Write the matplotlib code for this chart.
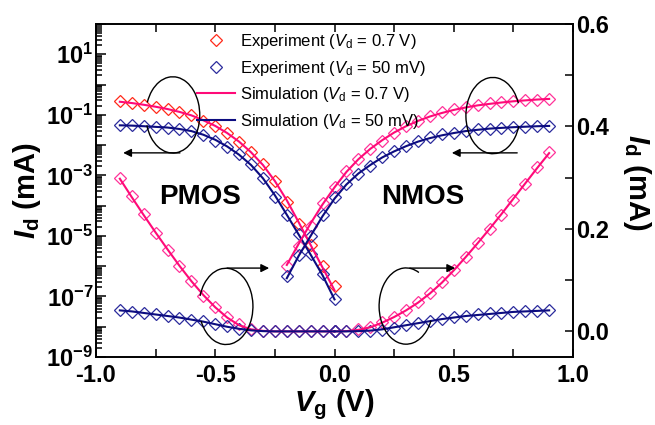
import numpy as np
import matplotlib
matplotlib.use('Agg')
import matplotlib.pyplot as plt
from matplotlib.patches import Arc
from matplotlib.ticker import (LogLocator, FuncFormatter, MultipleLocator,
                               NullFormatter, FormatStrFormatter)

plt.rcParams['font.family'] = ['Liberation Sans', 'DejaVu Sans']
plt.rcParams['font.weight'] = 'bold'
plt.rcParams['axes.labelweight'] = 'bold'
plt.rcParams['axes.unicode_minus'] = False
plt.rcParams['mathtext.fontset'] = 'custom'
plt.rcParams['mathtext.rm'] = 'Liberation Sans:weight=normal'
plt.rcParams['mathtext.it'] = 'Liberation Sans:italic:weight=normal'
plt.rcParams['mathtext.bf'] = 'Liberation Sans:bold'
plt.rcParams['mathtext.bfit'] = 'Liberation Sans:italic:bold'

# gate voltages (V)
vg_p = [-0.9, -0.85, -0.8, -0.75, -0.7, -0.65, -0.6, -0.55, -0.5, -0.45,
        -0.4, -0.35, -0.3, -0.25, -0.2, -0.15, -0.1, -0.05, 0.0]
vg_n_log = [-0.2, -0.15, -0.1, -0.05, 0.0, 0.05, 0.1, 0.15, 0.2, 0.25, 0.3,
            0.35, 0.4, 0.45, 0.5, 0.55, 0.6, 0.65, 0.7, 0.75, 0.8, 0.85, 0.9]
vg_n_lin = [0.0, 0.05, 0.1, 0.15, 0.2, 0.25, 0.3, 0.35, 0.4, 0.45, 0.5,
            0.55, 0.6, 0.65, 0.7, 0.75, 0.8, 0.85, 0.9]

# PMOS, log scale (mA)
p_exp_07 = [2.8e-1, 2.5e-1, 2.1e-1, 1.8e-1, 1.5e-1, 1.26e-1, 9.5e-2, 6.3e-2,
            4.2e-2, 2.5e-2, 1.26e-2, 6.0e-3, 2.4e-3, 6.3e-4, 1.35e-4, 2.5e-5,
            5.0e-6, 1.0e-6, 2.2e-7]
p_exp_50 = [4.6e-2, 4.5e-2, 4.3e-2, 4.1e-2, 3.8e-2, 3.5e-2, 3.0e-2, 2.1e-2,
            1.35e-2, 8.5e-3, 5.0e-3, 2.3e-3, 7.9e-4, 2.0e-4, 4.8e-5, 1.2e-5,
            2.5e-6, 5.6e-7, 8.0e-8]
p_sim_07 = [2.7e-1, 2.45e-1, 2.15e-1, 1.85e-1, 1.55e-1, 1.25e-1, 9.6e-2,
            6.6e-2, 4.3e-2, 2.5e-2, 1.3e-2, 5.8e-3, 2.2e-3, 6.5e-4, 1.5e-4,
            2.8e-5, 5.0e-6, 9.0e-7, 1.6e-7]
p_sim_50 = [4.5e-2, 4.4e-2, 4.2e-2, 4.0e-2, 3.8e-2, 3.4e-2, 2.9e-2, 2.2e-2,
            1.5e-2, 9.0e-3, 4.8e-3, 2.2e-3, 8.0e-4, 2.2e-4, 5.0e-5, 1.1e-5,
            2.4e-6, 5.0e-7, 8.0e-8]

# NMOS, log scale (mA)
n_exp_07 = [1.0e-6, 4.8e-6, 2.2e-5, 1.26e-4, 4.0e-4, 1.4e-3, 3.5e-3, 7.4e-3,
            1.4e-2, 2.6e-2, 4.3e-2, 6.3e-2, 9.1e-2, 1.23e-1, 1.5e-1, 1.8e-1,
            2.1e-1, 2.4e-1, 2.6e-1, 2.8e-1, 3.1e-1, 3.2e-1, 3.4e-1]
n_exp_50 = [4.7e-7, 2.4e-6, 1.0e-5, 5.0e-5, 2.0e-4, 5.1e-4, 1.1e-3, 2.1e-3,
            3.9e-3, 6.5e-3, 9.3e-3, 1.4e-2, 1.8e-2, 2.3e-2, 2.6e-2, 3.0e-2,
            3.3e-2, 3.5e-2, 3.8e-2, 4.0e-2, 4.1e-2, 4.2e-2, 4.3e-2]
n_sim_07 = [1.1e-6, 5.5e-6, 2.6e-5, 1.1e-4, 4.0e-4, 1.3e-3, 3.4e-3, 7.5e-3,
            1.45e-2, 2.6e-2, 4.2e-2, 6.3e-2, 8.8e-2, 1.15e-1, 1.45e-1, 1.75e-1,
            2.05e-1, 2.3e-1, 2.55e-1, 2.8e-1, 3.0e-1, 3.2e-1, 3.35e-1]
n_sim_50 = [4.0e-7, 2.2e-6, 1.0e-5, 4.5e-5, 1.7e-4, 5.0e-4, 1.15e-3, 2.2e-3,
            3.9e-3, 6.2e-3, 9.2e-3, 1.3e-2, 1.7e-2, 2.1e-2, 2.5e-2, 2.9e-2,
            3.2e-2, 3.5e-2, 3.7e-2, 3.9e-2, 4.05e-2, 4.2e-2, 4.3e-2]

# linear scale (mA)
p_lin_exp_07 = [0.300, 0.265, 0.229, 0.193, 0.159, 0.127, 0.098, 0.070, 0.047,
                0.028, 0.014, 0.005, 0.001, 0, 0, 0, 0, 0, 0]
p_lin_exp_50 = [0.041, 0.038, 0.035, 0.033, 0.030, 0.027, 0.023, 0.020, 0.015,
                0.010, 0.005, 0.002, 0, 0, 0, 0, 0, 0, 0]
p_lin_sim_07 = [0.298, 0.262, 0.227, 0.193, 0.160, 0.128, 0.098, 0.071, 0.047,
                0.027, 0.012, 0.004, 0.001, 0, 0, 0, 0, 0, 0]
p_lin_sim_50 = [0.041, 0.039, 0.036, 0.033, 0.030, 0.027, 0.023, 0.019, 0.014,
                0.009, 0.005, 0.002, 0.0005, 0, 0, 0, 0, 0, 0]
n_lin_exp_07 = [0, 0.001, 0.004, 0.009, 0.018, 0.029, 0.042, 0.057, 0.074,
                0.096, 0.120, 0.145, 0.172, 0.200, 0.228, 0.257, 0.288, 0.320,
                0.350]
n_lin_exp_50 = [0, 0, 0, 0.001, 0.003, 0.007, 0.012, 0.016, 0.021, 0.025,
                0.028, 0.030, 0.033, 0.035, 0.036, 0.038, 0.039, 0.040, 0.041]
n_lin_sim_07 = [0, 0.0005, 0.003, 0.008, 0.017, 0.028, 0.041, 0.056, 0.074,
                0.095, 0.119, 0.145, 0.172, 0.200, 0.229, 0.259, 0.289, 0.319,
                0.348]
n_lin_sim_50 = [0, 0, 0.0005, 0.0015, 0.004, 0.008, 0.012, 0.016, 0.020, 0.024,
                0.027, 0.030, 0.032, 0.034, 0.036, 0.038, 0.039, 0.040, 0.041]

red = '#ff2a1a'
pink_pt = '#ff3399'
pink = '#ff0a78'
blue_pt = '#2b2b9c'
navy = '#0c0c80'

fig = plt.figure(figsize=(6.55, 4.25), dpi=100)
ax = fig.add_axes([96 / 655, 68 / 425, 477 / 655, 333 / 425])
ax2 = ax.twinx()

mk = dict(marker='D', ms=6.2, mew=0.9, mfc='none', ls='none')

# log-scale curves (left axis)
h_e07, = ax.plot(vg_p, p_exp_07, mec=red, **mk)
h_e50, = ax.plot(vg_p, p_exp_50, mec=blue_pt, **mk)
ax.plot(vg_n_log, n_exp_07, mec=pink_pt, **mk)
ax.plot(vg_n_log, n_exp_50, mec=blue_pt, **mk)
h_s07, = ax.plot(vg_p, p_sim_07, color=pink, lw=1.5)
h_s50, = ax.plot(vg_p, p_sim_50, color=navy, lw=1.5)
ax.plot(vg_n_log, n_sim_07, color=pink, lw=1.5)
ax.plot(vg_n_log, n_sim_50, color=navy, lw=1.5)

# linear-scale curves (right axis)
ax2.plot(vg_p, p_lin_exp_07, mec=pink_pt, **mk)
ax2.plot(vg_n_lin, n_lin_exp_07, mec=pink_pt, **mk)
ax2.plot(vg_p, p_lin_exp_50, mec=blue_pt, **mk)
ax2.plot(vg_n_lin, n_lin_exp_50, mec=blue_pt, **mk)
ax2.plot(vg_p, p_lin_sim_07, color=pink, lw=1.5)
ax2.plot(vg_n_lin, n_lin_sim_07, color=pink, lw=1.5)
ax2.plot(vg_p, p_lin_sim_50, color=navy, lw=1.5)
ax2.plot(vg_n_lin, n_lin_sim_50, color=navy, lw=1.5)

ax.set_xlim(-1.0, 1.0)
ax.set_yscale('log')
ax.set_ylim(1e-9, 1e2)
ax2.set_ylim(-0.05, 0.6)

ax.xaxis.set_major_locator(MultipleLocator(0.5))
ax.xaxis.set_minor_locator(MultipleLocator(0.25))
ax.xaxis.set_major_formatter(FormatStrFormatter('%.1f'))
ax.yaxis.set_major_locator(LogLocator(base=10, numticks=20))
ax.yaxis.set_minor_locator(LogLocator(base=10, subs=np.arange(2, 10) * 1.0, numticks=20))
ax.yaxis.set_minor_formatter(NullFormatter())


def log_fmt(v, pos):
    e = int(round(np.log10(v)))
    if e % 2 == 0:
        return ''
    return r'$\mathbf{10^{%d}}$' % e


ax.yaxis.set_major_formatter(FuncFormatter(log_fmt))
ax2.yaxis.set_major_locator(MultipleLocator(0.2))
ax2.yaxis.set_minor_locator(MultipleLocator(0.1))
ax2.yaxis.set_major_formatter(FormatStrFormatter('%.1f'))

ax.tick_params(which='both', direction='in', top=True, right=False, width=1.1)
ax.tick_params(axis='x', which='both', length=6, labelsize=17, pad=5)
ax.tick_params(axis='y', which='major', length=7, labelsize=17, pad=2)
ax.tick_params(axis='y', which='minor', length=4)
ax2.tick_params(which='both', direction='in', length=6, width=1.1, labelsize=17, pad=2)
for a in (ax, ax2):
    for s in a.spines.values():
        s.set_linewidth(1.2)

ylab = r'$\mathbfit{I}_\mathbf{d}$ (mA)'
ax.set_ylabel(ylab, fontsize=21)
ax.yaxis.set_label_coords(-0.111, 0.5)
ax2.set_ylabel(ylab, fontsize=21, rotation=270, va='bottom')
ax2.yaxis.set_label_coords(1.1, 0.525)
ax.set_xlabel(r'$\mathbfit{V}_\mathbf{g}$ (V)', fontsize=21)
ax.xaxis.set_label_coords(0.5, -0.09)

ax.text(0.218, 0.481, 'PMOS', transform=ax.transAxes, fontsize=20,
        ha='center', va='center')
ax.text(0.686, 0.481, 'NMOS', transform=ax.transAxes, fontsize=20,
        ha='center', va='center')

# circles with arrows telling which axis the curves belong to
arcs = [((0.161, 0.727), -150, 145), ((0.832, 0.725), 35, 330),
        ((0.2725, 0.152), -140, 150), ((0.650, 0.153), 75, 320)]
for c, t1, t2 in arcs:
    ax2.add_patch(Arc(c, 0.113, 0.229, theta1=t1, theta2=t2, lw=1.0,
                      color='k', transform=ax2.transAxes, zorder=5))
arrows = [((0.176, 0.613), (0.057, 0.613)), ((0.883, 0.613), (0.746, 0.613)),
          ((0.275, 0.267), (0.363, 0.267)), ((0.658, 0.267), (0.753, 0.267))]
for a0, a1 in arrows:
    ax2.annotate('', xy=a1, xytext=a0, xycoords='axes fraction',
                 arrowprops=dict(arrowstyle='-|>', color='k', lw=1.0,
                                 mutation_scale=12, shrinkA=0, shrinkB=0))

labels = [r'Experiment ($V_\mathrm{d}$ = 0.7 V)', r'Experiment ($V_\mathrm{d}$ = 50 mV)',
          r'Simulation ($V_\mathrm{d}$ = 0.7 V)', r'Simulation ($V_\mathrm{d}$ = 50 mV)']
ax2.legend([h_e07, h_e50, h_s07, h_s50], labels, loc='upper left',
           bbox_to_anchor=(0.205, 0.985), frameon=False, borderaxespad=0,
           borderpad=0.2, handlelength=2.3, handletextpad=0.3,
           labelspacing=0.45, numpoints=1, prop={'size': 12, 'weight': 'normal'})

fig.savefig('out.png', dpi=100)
